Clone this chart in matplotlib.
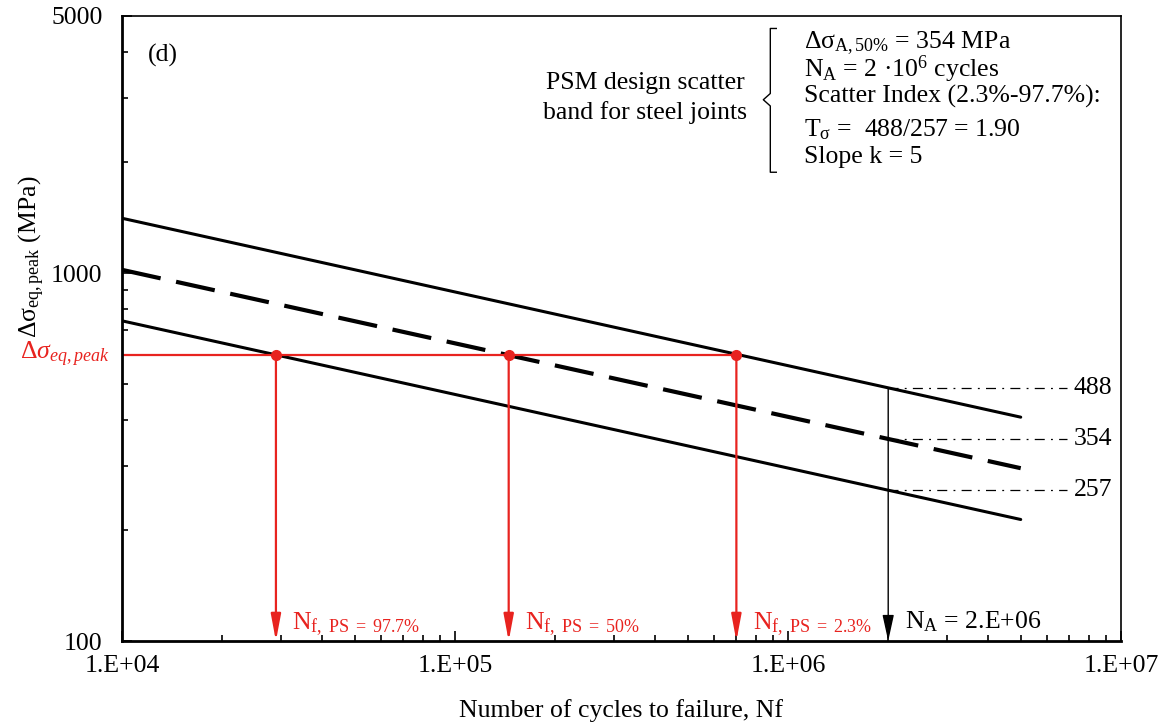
import matplotlib
matplotlib.use("Agg")
import matplotlib.pyplot as plt
from matplotlib.ticker import FixedLocator, NullFormatter

plt.rcParams['font.family'] = ['Liberation Serif', 'DejaVu Serif']
plt.rcParams['mathtext.fontset'] = 'custom'
plt.rcParams['mathtext.rm'] = 'Liberation Serif'
plt.rcParams['mathtext.it'] = 'Liberation Serif:italic'

# scatter band lines (values read at the line ends)
band_N = [1e4, 5e6]
upper = [1410, 406]      # PS 2.3 %
mean = [1021, 295]       # PS 50 %
lower = [742, 214]       # PS 97.7 %

N_A = 2e6
sigma_A = [488, 354, 257]
sigma_A_labels = ['488', '354', '257']

ds_peak = 600
Nf = [2.9e4, 1.45e5, 7.0e5]
Nf_labels = [r'N$_{\mathrm{f,\ PS\ =\ 97.7\%}}$',
             r'N$_{\mathrm{f,\ PS\ =\ 50\%}}$',
             r'N$_{\mathrm{f,\ PS\ =\ 2.3\%}}$']

x_ticks = [1e4, 1e5, 1e6, 1e7]
x_ticklabels = ['1.E+04', '1.E+05', '1.E+06', '1.E+07']
y_ticks = [100, 1000, 5000]
y_ticklabels = ['100', '1000', '5000']

red = '#e8231f'
fs = 18.5

fig = plt.figure(figsize=(11.76, 7.26), dpi=100)
ax = fig.add_axes([0.1037, 0.117, 0.8495, 0.861])
ax.set_xscale('log')
ax.set_yscale('log')
ax.set_xlim(1e4, 1e7)
ax.set_ylim(100, 5000)

ax.plot(band_N, upper, color='black', lw=2.2, solid_capstyle='round')
ax.plot(band_N, lower, color='black', lw=2.2, solid_capstyle='round')
ax.plot(band_N, mean, color='black', lw=3.0, dashes=(9.5, 3.8), solid_capstyle='round')

# dash-dot reference levels at N_A
for s, lab in zip(sigma_A, sigma_A_labels):
    ax.plot([N_A, 6.9e6], [s, s], color='black', lw=0.9, dashes=(8, 5, 1.5, 5))
    ax.text(7.2e6, s, lab, fontsize=fs, va='center', ha='left')

# black arrow at N_A
ax.annotate('', xy=(N_A, 100), xytext=(N_A, sigma_A[0]),
            arrowprops=dict(arrowstyle='-|>,head_width=0.35,head_length=1.6',
                            color='black', lw=1.0, shrinkA=0, shrinkB=0))
ax.text(2.25e6, 113, r'N$_{\mathrm{A}}$ = 2.E+06', fontsize=fs, va='center', ha='left')

# red construction
ax.plot([1e4, Nf[-1]], [ds_peak, ds_peak], color=red, lw=1.6)
ax.plot(Nf, [ds_peak] * len(Nf), 'o', color=red, ms=7)
for n, lab in zip(Nf, Nf_labels):
    ax.annotate('', xy=(n, 100), xytext=(n, ds_peak),
                arrowprops=dict(arrowstyle='-|>,head_width=0.3,head_length=1.6',
                                color=red, lw=1.6, shrinkA=0, shrinkB=0))
    ax.text(n * 1.12, 111, lab, color=red, fontsize=fs, va='center', ha='left')

ax.text(-0.012, ds_peak, r'$\Delta\sigma_{eq,peak}$', color=red, fontsize=fs,
        transform=ax.get_yaxis_transform(), ha='right', va='center')

ax.text(0.026, 0.955, '(d)', transform=ax.transAxes, fontsize=fs, va='top')

ax.text(0.524, 0.893, 'PSM design scatter', transform=ax.transAxes,
        fontsize=fs, ha='center', va='center')
ax.text(0.524, 0.845, 'band for steel joints', transform=ax.transAxes,
        fontsize=fs, ha='center', va='center')

# brace
bx = 0.649
ax.plot([bx + 0.006, bx, bx, bx - 0.007, bx, bx, bx + 0.006],
        [0.98, 0.98, 0.876, 0.866, 0.856, 0.75, 0.75],
        transform=ax.transAxes, color='black', lw=1.0, clip_on=False)

info = [r'Δσ$_{\mathrm{A,50\%}}$ = 354 MPa',
        r'N$_{\mathrm{A}}$ = 2 ·10$^{6}$ cycles',
        'Scatter Index (2.3%-97.7%):',
        r'T$_{\mathrm{σ}}$ =  488/257 = 1.90',
        'Slope k = 5']
info_y = [0.957, 0.914, 0.871, 0.818, 0.775]
for t, yy in zip(info, info_y):
    ax.text(0.683, yy, t, transform=ax.transAxes, fontsize=fs, va='center', ha='left')

ax.xaxis.set_major_locator(FixedLocator(x_ticks))
ax.set_xticklabels(x_ticklabels)
ax.yaxis.set_major_locator(FixedLocator(y_ticks))
ax.set_yticklabels(y_ticklabels)
ax.yaxis.set_minor_formatter(NullFormatter())
ax.xaxis.set_minor_formatter(NullFormatter())
ax.tick_params(which='both', direction='in', top=False, right=False, labelsize=fs)
ax.tick_params(which='major', length=7, width=1.2)
ax.tick_params(which='minor', length=4, width=1.2)
ax.tick_params(axis='x', pad=10)
ax.tick_params(axis='y', pad=14)
for sp in ['left', 'bottom']:
    ax.spines[sp].set_linewidth(2.0)
for sp in ['top', 'right']:
    ax.spines[sp].set_linewidth(1.2)

ax.set_xlabel('Number of cycles to failure, Nf', fontsize=fs, labelpad=16)
ax.set_ylabel(r'Δσ$_{\mathrm{eq,peak}}$ (MPa)', fontsize=fs)
ax.yaxis.set_label_coords(-0.075, 0.615)

fig.savefig('out.png', dpi=100)
